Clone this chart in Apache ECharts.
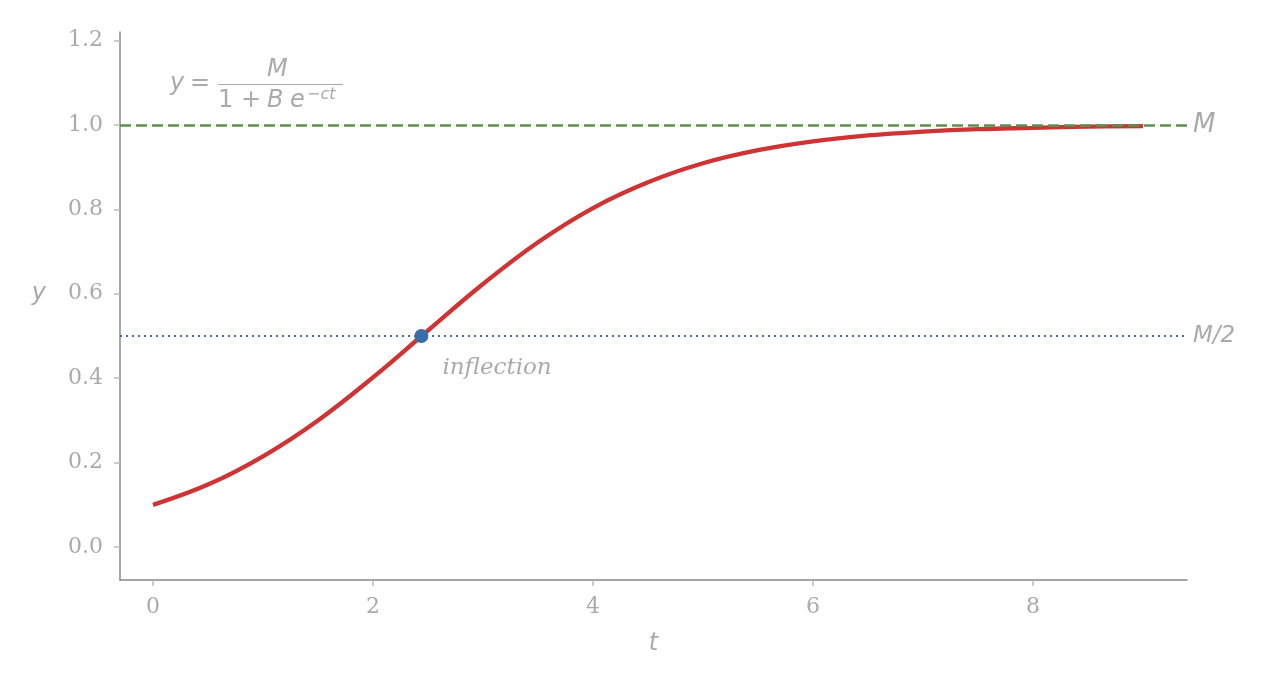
<!DOCTYPE html>
<html>
<head>
<meta charset="utf-8">
<script src="https://cdn.jsdelivr.net/npm/echarts@6/dist/echarts.min.js"></script>
<style>
  html, body { margin: 0; padding: 0; background: #fff; }
  #chart { width: 1269px; height: 690px; }
</style>
</head>
<body>
<div id="chart"></div>
<script>
// values
var tValues = [0, 0.5, 1, 1.5, 2, 2.5, 3, 3.5, 4, 4.5, 5, 5.5, 6, 6.5, 7, 7.5, 8, 8.5, 9];
var yValues = [0.100, 0.148, 0.215, 0.300, 0.402, 0.513, 0.623, 0.722, 0.803, 0.864, 0.909, 0.940, 0.961, 0.975, 0.984, 0.990, 0.993, 0.996, 0.997];
var inflectionPoint = [2.44, 0.5];
var carryingLevel = 1.0;
var halfLevel = 0.5;
var xTicks = [0, 2, 4, 6, 8];
var yTicks = [0, 0.2, 0.4, 0.6, 0.8, 1.0, 1.2];

var curve = tValues.map(function (t, i) { return [t, yValues[i]]; });

var myChart = echarts.init(document.getElementById('chart'));

var labelGray = '#aaaaaa';
var sans = 'DejaVu Sans';
var serif = 'DejaVu Serif';

var option = {
    animation: false,
    grid: { left: 120, right: 82, top: 32, bottom: 110 },
    xAxis: {
        type: 'value',
        min: -0.3,
        max: 9.4,
        name: 't',
        nameLocation: 'middle',
        nameGap: 52,
        nameTextStyle: { fontFamily: sans, fontStyle: 'italic', fontSize: 24, color: labelGray },
        axisLine: { show: true, onZero: false, lineStyle: { color: '#888', width: 1.5 } },
        axisTick: { show: true, customValues: xTicks, length: 6, lineStyle: { color: '#bbb', width: 1.5 } },
        axisLabel: { customValues: xTicks, margin: 16, fontFamily: serif, fontSize: 22, color: labelGray },
        splitLine: { show: false }
    },
    yAxis: {
        type: 'value',
        min: -0.078,
        max: 1.22,
        name: 'y',
        nameLocation: 'middle',
        nameRotate: 0,
        nameGap: 74,
        nameTextStyle: { fontFamily: sans, fontStyle: 'italic', fontSize: 24, color: labelGray, verticalAlign: 'bottom' },
        axisLine: { show: true, onZero: false, lineStyle: { color: '#888', width: 1.5 } },
        axisTick: { show: true, customValues: yTicks, length: 6, lineStyle: { color: '#bbb', width: 1.5 } },
        axisLabel: {
            customValues: yTicks, margin: 17, fontFamily: serif, fontSize: 22, color: labelGray,
            formatter: function (v) { return v.toFixed(1); }
        },
        splitLine: { show: false }
    },
    series: [
        {
            name: 'M2',
            type: 'line',
            data: [],
            markLine: {
                silent: true,
                symbol: 'none',
                lineStyle: { color: '#3a6ea8', type: [2, 4], width: 1.8 },
                label: {
                    position: 'end', distance: 6, formatter: 'M/2',
                    fontFamily: sans, fontStyle: 'italic', fontSize: 23, color: labelGray
                },
                data: [{ yAxis: halfLevel }]
            }
        },
        {
            name: 'logistic',
            type: 'line',
            data: curve,
            smooth: 0.4,
            showSymbol: false,
            lineStyle: { color: '#cf3434', width: 4.3 },
            z: 3
        },
        {
            name: 'M',
            type: 'line',
            data: [],
            z: 4,
            markLine: {
                silent: true,
                symbol: 'none',
                lineStyle: { color: '#5f8f50', type: [11, 5], width: 2.6 },
                label: {
                    position: 'end', distance: 6, formatter: 'M',
                    fontFamily: sans, fontStyle: 'italic', fontSize: 26, color: labelGray
                },
                data: [{ yAxis: carryingLevel }]
            }
        },
        {
            name: 'inflection',
            type: 'scatter',
            data: [inflectionPoint],
            symbolSize: 14,
            itemStyle: { color: '#3a6eab', opacity: 1 },
            z: 5,
            label: {
                show: true,
                position: [28, 28],
                formatter: 'inflection',
                fontFamily: serif, fontStyle: 'italic', fontSize: 23, color: labelGray
            }
        }
    ],
    graphic: [
        {
            type: 'group',
            left: 170,
            top: 58,
            children: [
                { type: 'text', x: 0, y: 14, style: { text: 'y', font: 'italic 24px "DejaVu Sans"', fill: labelGray } },
                { type: 'text', x: 20, y: 14, style: { text: '=', font: '24px "DejaVu Sans"', fill: labelGray } },
                { type: 'text', x: 97, y: 0, style: { text: 'M', font: 'italic 24px "DejaVu Sans"', fill: labelGray } },
                { type: 'line', shape: { x1: 48, y1: 26.5, x2: 173, y2: 26.5 }, style: { stroke: labelGray, lineWidth: 1.2 } },
                { type: 'text', x: 48, y: 31, style: { text: '1 + ', font: '24px "DejaVu Sans"', fill: labelGray } },
                { type: 'text', x: 97, y: 31, style: { text: 'B', font: 'italic 24px "DejaVu Sans"', fill: labelGray } },
                { type: 'text', x: 120, y: 31, style: { text: 'e', font: 'italic 24px "DejaVu Sans"', fill: labelGray } },
                { type: 'text', x: 137, y: 29, style: { text: '\u2212ct', font: 'italic 16px "DejaVu Sans"', fill: labelGray } }
            ]
        }
    ]
};

myChart.setOption(option);
</script>
</body>
</html>
